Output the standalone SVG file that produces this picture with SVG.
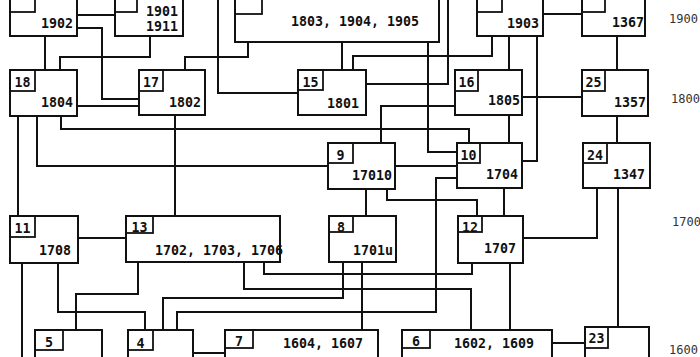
<svg xmlns="http://www.w3.org/2000/svg" width="700" height="357" viewBox="0 0 700 357">
<style>
.box{fill:#fff;stroke:#111;stroke-width:2}
.lb{fill:none;stroke:#111;stroke-width:1.8}
.conn path{fill:none;stroke:#111;stroke-width:2}
text{font-family:"DejaVu Sans Mono","Liberation Mono",monospace;font-weight:bold;font-size:13.3px;fill:#111}
.yr{text-anchor:end}
.id{text-anchor:middle}
.ax{font-size:12px;fill:#333;font-weight:normal}
</style>
<rect width="700" height="357" fill="#fff"/>
<g id="connectors" class="conn">
<path d="M77,15 H115"/>
<path d="M77,28 H102 V99 H139"/>
<path d="M45,36 V70"/>
<path d="M150,36 V57 H60 V70"/>
<path d="M77,106 H139"/>
<path d="M185,70 V57 H248 V42"/>
<path d="M218,0 V93 H298"/>
<path d="M342,42 V70"/>
<path d="M353,70 V56 H492 V36"/>
<path d="M448,0 V84 H366"/>
<path d="M428,42 V152 H457"/>
<path d="M455,106 H381 V143"/>
<path d="M543,14 H582"/>
<path d="M509,36 V70"/>
<path d="M537,36 V161 H522"/>
<path d="M617,36 V70"/>
<path d="M522,97 H582"/>
<path d="M509,115 V143"/>
<path d="M617,116 V143"/>
<path d="M18,116 V216"/>
<path d="M37,116 V166 H328"/>
<path d="M61,116 V129 H469 V143"/>
<path d="M175,115 V216"/>
<path d="M395,166 H457"/>
<path d="M457,178 H436 V312 H177 V330"/>
<path d="M387,189 V200 H477 V216"/>
<path d="M366,189 V216"/>
<path d="M504,188 V216"/>
<path d="M597,188 V238 H523"/>
<path d="M618,188 V327"/>
<path d="M78,238 H126"/>
<path d="M22,263 V357"/>
<path d="M58,263 V312 H145 V330"/>
<path d="M138,262 V294 H76 V330"/>
<path d="M343,262 V298 H163 V330"/>
<path d="M244,262 V289 H471 V330"/>
<path d="M264,262 V274 H472 V263"/>
<path d="M362,262 V330"/>
<path d="M510,263 V330"/>
<path d="M552,343 H585"/>
<path d="M193,353 H225"/>
</g>
<g id="n19"><rect class="box" x="10" y="-10" width="67" height="46"/><rect class="lb" x="10" y="-10" width="25" height="22"/><text class="yr" x="73" y="28">1902</text></g>
<g id="n22"><rect class="box" x="115" y="-10" width="68" height="46"/><rect class="lb" x="115" y="-10" width="22" height="22"/><text class="yr" x="178" y="16">1901</text><text class="yr" x="178" y="31">1911</text></g>
<g id="n14"><rect class="box" x="235" y="-10" width="204" height="52"/><rect class="lb" x="235" y="-10" width="27" height="24"/><text class="yr" x="419" y="26">1803, 1904, 1905</text></g>
<g id="n20"><rect class="box" x="477" y="-10" width="66" height="46"/><rect class="lb" x="477" y="-10" width="25" height="22"/><text class="yr" x="539" y="28">1903</text></g>
<g id="n21"><rect class="box" x="582" y="-10" width="63" height="46"/><rect class="lb" x="582" y="-10" width="23" height="22"/><text class="yr" x="644" y="27">1367</text></g>
<g id="n18"><rect class="box" x="10" y="70" width="67" height="46"/><rect class="lb" x="10" y="70" width="25" height="21"/><text class="id" x="22.5" y="87">18</text><text class="yr" x="73" y="107">1804</text></g>
<g id="n17"><rect class="box" x="139" y="70" width="66" height="45"/><rect class="lb" x="139" y="70" width="24" height="21"/><text class="id" x="151" y="87">17</text><text class="yr" x="201" y="107">1802</text></g>
<g id="n15"><rect class="box" x="298" y="70" width="68" height="45"/><rect class="lb" x="298" y="70" width="25" height="20"/><text class="id" x="310.5" y="87">15</text><text class="yr" x="359" y="108">1801</text></g>
<g id="n16"><rect class="box" x="455" y="70" width="67" height="45"/><rect class="lb" x="455" y="70" width="23" height="21"/><text class="id" x="466.5" y="87">16</text><text class="yr" x="520" y="105">1805</text></g>
<g id="n25"><rect class="box" x="582" y="70" width="66" height="46"/><rect class="lb" x="582" y="70" width="23" height="21"/><text class="id" x="593.5" y="87">25</text><text class="yr" x="646" y="107">1357</text></g>
<g id="n9"><rect class="box" x="328" y="143" width="67" height="46"/><rect class="lb" x="328" y="143" width="25" height="20"/><text class="id" x="340.5" y="160">9</text><text class="yr" x="392" y="180">17010</text></g>
<g id="n10"><rect class="box" x="457" y="143" width="65" height="45"/><rect class="lb" x="457" y="143" width="23" height="20"/><text class="id" x="468.5" y="160">10</text><text class="yr" x="518" y="179">1704</text></g>
<g id="n24"><rect class="box" x="583" y="143" width="67" height="45"/><rect class="lb" x="583" y="143" width="24" height="20"/><text class="id" x="595" y="160">24</text><text class="yr" x="645" y="179">1347</text></g>
<g id="n11"><rect class="box" x="10" y="216" width="68" height="47"/><rect class="lb" x="10" y="216" width="25" height="21"/><text class="id" x="22.5" y="233">11</text><text class="yr" x="71" y="255">1708</text></g>
<g id="n13"><rect class="box" x="126" y="216" width="154" height="46"/><rect class="lb" x="126" y="216" width="27" height="17"/><text class="id" x="139.5" y="232">13</text><text class="yr" x="283" y="255">1702, 1703, 1706</text></g>
<g id="n8"><rect class="box" x="329" y="216" width="67" height="46"/><rect class="lb" x="329" y="216" width="24" height="16"/><text class="id" x="341" y="232">8</text><text class="yr" x="393" y="255">1701u</text></g>
<g id="n12"><rect class="box" x="458" y="216" width="65" height="47"/><rect class="lb" x="458" y="216" width="24" height="16"/><text class="id" x="470" y="232">12</text><text class="yr" x="516" y="253">1707</text></g>
<g id="n5"><rect class="box" x="35" y="330" width="67" height="40"/><rect class="lb" x="35" y="330" width="28" height="20"/><text class="id" x="49" y="347">5</text></g>
<g id="n4"><rect class="box" x="128" y="330" width="65" height="40"/><rect class="lb" x="128" y="330" width="25" height="20"/><text class="id" x="140.5" y="348">4</text></g>
<g id="n7"><rect class="box" x="225" y="330" width="153" height="40"/><rect class="lb" x="225" y="330" width="28" height="18"/><text class="id" x="239" y="346">7</text><text class="yr" x="363" y="348">1604, 1607</text></g>
<g id="n6"><rect class="box" x="402" y="330" width="150" height="40"/><rect class="lb" x="402" y="330" width="28" height="18"/><text class="id" x="416" y="346">6</text><text class="yr" x="534" y="348">1602, 1609</text></g>
<g id="n23"><rect class="box" x="585" y="327" width="64" height="40"/><rect class="lb" x="585" y="327" width="23" height="21"/><text class="id" x="596.5" y="343">23</text></g>
<g id="axis">
<text class="ax" x="669" y="23">1900</text>
<text class="ax" x="671" y="103">1800</text>
<text class="ax" x="672" y="226">1700</text>
<text class="ax" x="669" y="354">1600</text>
</g>
</svg>
